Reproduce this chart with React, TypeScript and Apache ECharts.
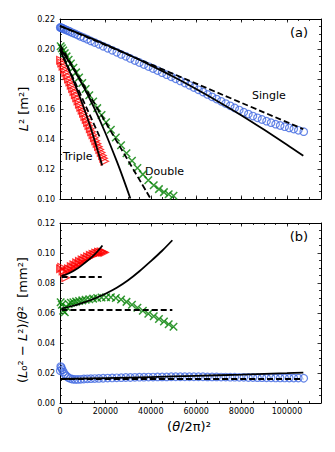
import React, { useEffect, useRef } from "react";
import * as echarts from "echarts";

// ---------- data ----------
// Single (blue circles)
const singleX = [100, 300, 600, 1000, 1500, 2100, 2800, 3600, 4500, 5500, 6600, 7800, 9100, 10500, 12000, 13600, 15300, 17100, 19000, 21000, 23000, 25000, 27000, 29000, 31000, 33000, 35000, 37000, 39000, 41000, 43000, 45000, 47000, 49000, 51000, 53000, 55000, 57000, 59000, 61000, 63000, 65000, 67000, 69000, 71000, 73000, 75000, 77000, 79000, 81000, 83000, 85000, 87000, 89000, 91000, 93000, 95000, 97000, 99000, 101000, 103000, 105000, 107400];
const singleL2 = [0.2144, 0.2143, 0.2141, 0.2138, 0.2135, 0.2131, 0.2126, 0.2121, 0.2115, 0.2108, 0.2101, 0.2093, 0.2084, 0.2075, 0.2065, 0.2054, 0.2043, 0.2031, 0.2018, 0.2005, 0.1991, 0.1978, 0.1964, 0.1951, 0.1937, 0.1923, 0.1910, 0.1896, 0.1883, 0.1870, 0.1856, 0.1842, 0.1829, 0.1815, 0.1801, 0.1787, 0.1773, 0.1758, 0.1743, 0.1728, 0.1713, 0.1697, 0.1681, 0.1666, 0.1651, 0.1636, 0.1621, 0.1607, 0.1593, 0.1579, 0.1566, 0.1553, 0.1541, 0.1530, 0.1519, 0.1509, 0.1499, 0.1490, 0.1482, 0.1474, 0.1466, 0.1458, 0.1449];
const singleRatio = [0.0215, 0.0243, 0.0236, 0.0222, 0.0206, 0.0192, 0.0180, 0.0170, 0.0163, 0.0159, 0.0157, 0.0157, 0.0158, 0.0160, 0.0161, 0.0162, 0.0163, 0.0164, 0.0165, 0.0166, 0.0167, 0.0168, 0.0169, 0.0170, 0.0170, 0.0171, 0.0172, 0.0172, 0.0173, 0.0173, 0.0174, 0.0174, 0.0174, 0.0175, 0.0175, 0.0175, 0.0175, 0.0175, 0.0175, 0.0175, 0.0175, 0.0174, 0.0174, 0.0174, 0.0173, 0.0173, 0.0172, 0.0172, 0.0171, 0.0171, 0.0170, 0.0170, 0.0169, 0.0169, 0.0168, 0.0168, 0.0167, 0.0167, 0.0167, 0.0166, 0.0166, 0.0166, 0.0165];

// Double (green crosses)
const doubleX = [300, 800, 1400, 2100, 2900, 3800, 4800, 5900, 7100, 8400, 9800, 11300, 12900, 14600, 16400, 18300, 20300, 22400, 24600, 26900, 29300, 31700, 34100, 36500, 38900, 41300, 43600, 45800, 47900, 50000];
const doubleL2 = [0.2018, 0.2005, 0.1990, 0.1972, 0.1951, 0.1928, 0.1903, 0.1875, 0.1844, 0.1810, 0.1773, 0.1733, 0.1692, 0.1650, 0.1606, 0.1560, 0.1512, 0.1462, 0.1410, 0.1358, 0.1305, 0.1255, 0.1207, 0.1164, 0.1125, 0.1092, 0.1066, 0.1046, 0.1032, 0.1022];
const doubleRatio = [0.0672, 0.0655, 0.0615, 0.0605, 0.0640, 0.0660, 0.0668, 0.0672, 0.0676, 0.0680, 0.0684, 0.0688, 0.0692, 0.0696, 0.0700, 0.0703, 0.0705, 0.0705, 0.0700, 0.0690, 0.0674, 0.0655, 0.0635, 0.0615, 0.0595, 0.0578, 0.0560, 0.0543, 0.0525, 0.0508];

// Triple (red triangles)
const tripleX = [200, 700, 1300, 1900, 2500, 3100, 3700, 4300, 4900, 5500, 6100, 6700, 7300, 7900, 8500, 9100, 9700, 10300, 10900, 11500, 12100, 12700, 13300, 13900, 14500, 15100, 15700, 16300, 16900, 17500, 18100, 18700, 19200, 19700];
const tripleL2 = [0.1925, 0.1907, 0.1885, 0.1864, 0.1843, 0.1822, 0.1800, 0.1779, 0.1758, 0.1737, 0.1716, 0.1695, 0.1674, 0.1653, 0.1632, 0.1612, 0.1591, 0.1571, 0.1550, 0.1530, 0.1509, 0.1489, 0.1468, 0.1448, 0.1428, 0.1408, 0.1388, 0.1369, 0.1349, 0.1330, 0.1310, 0.1290, 0.1271, 0.1252];
const tripleRatio = [0.0895, 0.0905, 0.0880, 0.0870, 0.0835, 0.0880, 0.0895, 0.0890, 0.0910, 0.0900, 0.0922, 0.0912, 0.0935, 0.0925, 0.0945, 0.0935, 0.0955, 0.0948, 0.0965, 0.0958, 0.0975, 0.0968, 0.0985, 0.0978, 0.0992, 0.0988, 0.1000, 0.0996, 0.1006, 0.1002, 0.1008, 0.1004, 0.1006, 0.1003];

// Model curves (solid) and linear fits (dashed), panel (a)
const singleCurveX = [0, 10000, 20000, 30000, 40000, 50000, 60000, 70000, 80000, 90000, 100000, 107200];
const singleCurveA = [0.2152, 0.2094, 0.2031, 0.1963, 0.1891, 0.1815, 0.1733, 0.1647, 0.1557, 0.1461, 0.1362, 0.1288];
const singleLineX = [0, 107200];
const singleLineA = [0.2155, 0.1466];
const doubleCurveX = [0, 5000, 10000, 15000, 20000, 25000, 28000, 31000];
const doubleCurveA = [0.2005, 0.1891, 0.1759, 0.1609, 0.1440, 0.1252, 0.1131, 0.1003];
const doubleLineX = [0, 40000];
const doubleLineA = [0.2027, 0.1000];
const tripleCurveX = [0, 3000, 6000, 9000, 12000, 15000, 18600];
const tripleCurveA = [0.1993, 0.1892, 0.1786, 0.1670, 0.1543, 0.1404, 0.1223];
const tripleLineX = [0, 17600];
const tripleLineA = [0.2000, 0.1410];

// Panel (b)
const singleCurveBX = [0, 20000, 40000, 60000, 80000, 100000, 107200];
const singleCurveB = [0.0160, 0.0166, 0.0173, 0.0181, 0.0189, 0.0199, 0.0203];
const singleLineBX = [0, 107200];
const singleLineB = [0.0160, 0.0160];
const doubleCurveBX = [700, 5000, 10000, 15000, 20000, 25000, 30000, 35000, 40000, 45000, 49500];
const doubleCurveB = [0.0630, 0.0645, 0.0668, 0.0695, 0.0728, 0.0768, 0.0818, 0.0878, 0.0945, 0.1015, 0.1085];
const doubleLineBX = [700, 49500];
const doubleLineB = [0.0620, 0.0620];
const tripleCurveBX = [700, 4000, 8000, 11000, 14000, 16500, 18700];
const tripleCurveB = [0.0847, 0.0865, 0.0900, 0.0935, 0.0973, 0.1010, 0.1050];
const tripleLineBX = [700, 18400];
const tripleLineB = [0.0840, 0.0840];

// axes
const xMin = 0;
const xMax = 115000;
const xMajor = 20000;
const xMinor = 5000;
const yAMin = 0.1;
const yAMax = 0.22;
const yBMin = 0;
const yBMax = 0.12;
const yStep = 0.02;

const FONT = "DejaVu Sans";
const BLUE = "#4169E1";
const GREEN = "#008000";
const RED = "#FF0000";

const pairs = (xs: number[], ys: number[]) => xs.map((x, i) => [x, ys[i]]);

function xAxes(gridIndex: number, labels: boolean) {
  const base = {
    type: "value",
    gridIndex,
    min: xMin,
    max: xMax,
    splitLine: { show: false },
  };
  const mk = (position: string, interval: number, major: boolean) => ({
    ...base,
    position,
    interval,
    axisLine: { show: major, onZero: false, lineStyle: { color: "#000", width: 1 } },
    axisTick: { show: true, inside: true, length: major ? 3.5 : 2, lineStyle: { color: "#000", width: 0.8 } },
    axisLabel: {
      show: labels && major && position === "bottom",
      fontSize: 8,
      fontFamily: FONT,
      color: "#000",
      margin: 4,
      formatter: (v: number) => (v % xMajor === 0 ? String(v) : ""),
    },
  });
  return [mk("bottom", xMajor, true), mk("bottom", xMinor, false), mk("top", xMajor, true), mk("top", xMinor, false)];
}

function yAxes(gridIndex: number, min: number, max: number) {
  const mk = (position: string) => ({
    type: "value",
    gridIndex,
    position,
    min,
    max,
    interval: yStep,
    splitLine: { show: false },
    axisLine: { show: true, onZero: false, lineStyle: { color: "#000", width: 1 } },
    axisTick: { show: true, inside: true, length: 3.5, lineStyle: { color: "#000", width: 0.8 } },
    minorTick: { show: true, splitNumber: 4, length: 2, lineStyle: { color: "#000", width: 0.8 } },
    minorSplitLine: { show: false },
    axisLabel: {
      show: position === "left",
      fontSize: 8,
      fontFamily: FONT,
      color: "#000",
      margin: 5,
      formatter: (v: number) => v.toFixed(2),
    },
  });
  return [mk("left"), mk("right")];
}

const CROSS = "path://M0,0L10,10M0,10L10,0";
const TRI_RIGHT = "path://M0,0L10,5L0,10Z";

function scatter(data: number[][], xi: number, yi: number, symbol: string, color: string, size: number, bw: number) {
  return {
    type: "scatter",
    xAxisIndex: xi,
    yAxisIndex: yi,
    data,
    symbol,
    symbolSize: size,
    itemStyle: { color: "rgba(0,0,0,0)", borderColor: color, borderWidth: bw },
    emphasis: { disabled: true },
    silent: true,
  };
}

function line(data: number[][], xi: number, yi: number, dashed: boolean) {
  return {
    type: "line",
    xAxisIndex: xi,
    yAxisIndex: yi,
    data,
    showSymbol: false,
    symbol: "none",
    smooth: 0.3,
    clip: true,
    lineStyle: { color: "#000", width: 1.8, type: dashed ? [6, 3] : "solid" },
    silent: true,
  };
}

export default function App() {
  const ref = useRef<HTMLDivElement>(null);
  useEffect(() => {
    if (!ref.current) return;
    const chart = echarts.init(ref.current, undefined, { renderer: "svg" });
    const option = {
      animation: false,
      backgroundColor: "#fff",
      grid: [
        { left: 60, top: 19, width: 261, height: 180 },
        { left: 60, top: 223, width: 261, height: 180 },
      ],
      xAxis: [...xAxes(0, false), ...xAxes(1, true)],
      yAxis: [...yAxes(0, yAMin, yAMax), ...yAxes(1, yBMin, yBMax)],
      series: [
        scatter(pairs(singleX, singleL2), 0, 0, "circle", BLUE, 7.5, 1.2),
        scatter(pairs(doubleX, doubleL2), 0, 0, CROSS, GREEN, 7.5, 1.5),
        scatter(pairs(tripleX, tripleL2), 0, 0, TRI_RIGHT, RED, 7.5, 1.2),
        line(pairs(singleCurveX, singleCurveA), 0, 0, false),
        line(pairs(singleLineX, singleLineA), 0, 0, true),
        line(pairs(doubleCurveX, doubleCurveA), 0, 0, false),
        line(pairs(doubleLineX, doubleLineA), 0, 0, true),
        line(pairs(tripleCurveX, tripleCurveA), 0, 0, false),
        line(pairs(tripleLineX, tripleLineA), 0, 0, true),

        scatter(pairs(singleX, singleRatio), 4, 2, "circle", BLUE, 7.5, 1.2),
        scatter(pairs(doubleX, doubleRatio), 4, 2, CROSS, GREEN, 7.5, 1.5),
        scatter(pairs(tripleX, tripleRatio), 4, 2, TRI_RIGHT, RED, 7.5, 1.2),
        line(pairs(singleCurveBX, singleCurveB), 4, 2, false),
        line(pairs(singleLineBX, singleLineB), 4, 2, true),
        line(pairs(doubleCurveBX, doubleCurveB), 4, 2, false),
        line(pairs(doubleLineBX, doubleLineB), 4, 2, true),
        line(pairs(tripleCurveBX, tripleCurveB), 4, 2, false),
        line(pairs(tripleLineBX, tripleLineB), 4, 2, true),
      ],
      graphic: [
        {
          type: "text",
          x: 23,
          y: 109,
          rotation: Math.PI / 2,
          style: {
            text: "{i|L}² [m²]",
            rich: { i: { fontStyle: "italic", fontSize: 13, fontFamily: FONT, fill: "#000" } },
            fontSize: 13,
            fontFamily: FONT,
            fill: "#000",
            align: "center",
            verticalAlign: "middle",
          },
        },
        {
          type: "text",
          x: 22,
          y: 320,
          rotation: Math.PI / 2,
          style: {
            text: "({i|L}₀² − {i|L}²)/{i|θ}²  [mm²]",
            rich: { i: { fontStyle: "italic", fontSize: 13, fontFamily: FONT, fill: "#000" } },
            fontSize: 13,
            fontFamily: FONT,
            fill: "#000",
            align: "center",
            verticalAlign: "middle",
          },
        },
        {
          type: "text",
          x: 189,
          y: 426,
          style: {
            text: "({i|θ}/2π)²",
            rich: { i: { fontStyle: "italic", fontSize: 13, fontFamily: FONT, fill: "#000" } },
            fontSize: 13,
            fontFamily: FONT,
            fill: "#000",
            align: "center",
            verticalAlign: "middle",
          },
        },
        { type: "text", x: 299, y: 32, style: { text: "(a)", fontSize: 13, fontFamily: FONT, fill: "#000", align: "center", verticalAlign: "middle" } },
        { type: "text", x: 299, y: 236, style: { text: "(b)", fontSize: 13, fontFamily: FONT, fill: "#000", align: "center", verticalAlign: "middle" } },
        { type: "text", x: 252, y: 95, style: { text: "Single", fontSize: 11, fontFamily: FONT, fill: "#000", align: "left", verticalAlign: "middle" } },
        { type: "text", x: 63, y: 156, style: { text: "Triple", fontSize: 11, fontFamily: FONT, fill: "#000", align: "left", verticalAlign: "middle" } },
        { type: "text", x: 145, y: 171, style: { text: "Double", fontSize: 11, fontFamily: FONT, fill: "#000", align: "left", verticalAlign: "middle" } },
      ],
    };
    chart.setOption(option as any);
    return () => chart.dispose();
  }, []);
  return (
    <div
      ref={ref}
      style={{ position: "fixed", left: 0, top: 0, width: 335, height: 452, background: "#fff" }}
    />
  );
}
